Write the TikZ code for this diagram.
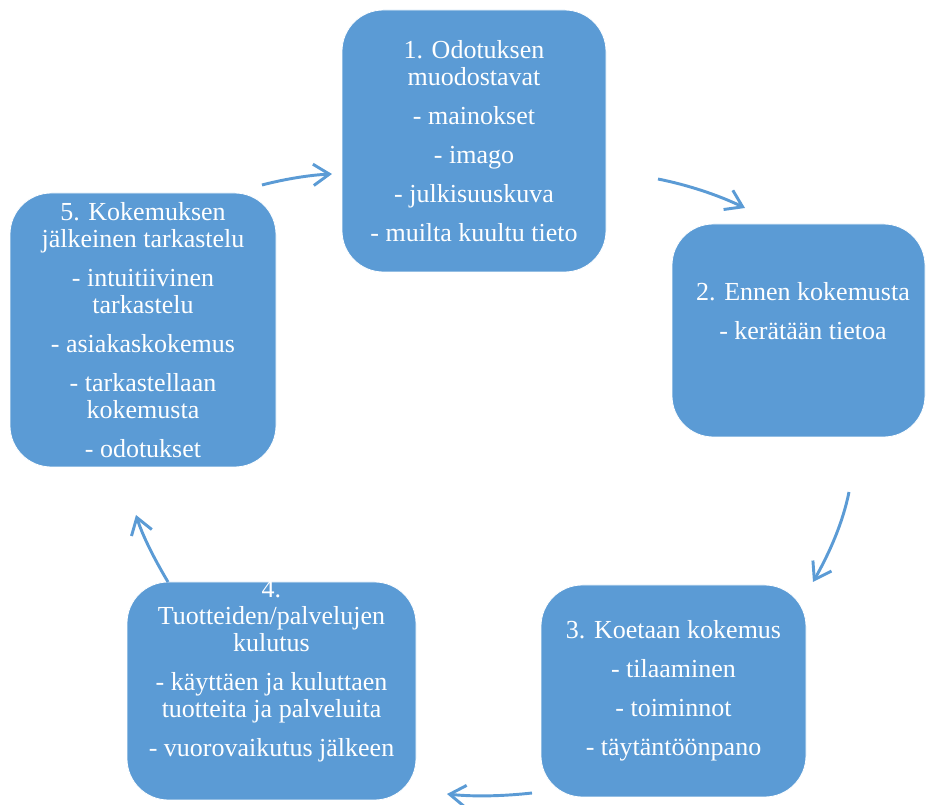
\documentclass[tikz,border=0pt]{standalone}
\usepackage{fontspec}
\setmainfont{Liberation Serif}
\usetikzlibrary{arrows.meta}
\definecolor{boxblue}{RGB}{91,155,213}
\tikzset{
  cyclebox/.style={draw=white, line width=0.6pt, fill=boxblue, rounded corners=31pt, inner sep=0pt, outer sep=0pt},
  cycletext/.style={text=white, align=center, inner sep=0pt, font={\fontsize{19.5}{20.25}\selectfont}},
  cyclearrow/.style={draw=boxblue, line width=2.2pt, -{Straight Barb[length=12pt,width=16pt,line width=2.2pt]}}
}
\begin{document}
\begin{tikzpicture}[x=0.75pt,y=-0.75pt]
\useasboundingbox (0,0) rectangle (926,805);
% boxes
\node[cyclebox, minimum width=198pt, minimum height=196.5pt] (b1) at (474,141) {};
\node[cyclebox, minimum width=189.75pt, minimum height=159.75pt] (b2) at (798.5,330.5) {};
\node[cyclebox, minimum width=198.75pt, minimum height=159pt] (b3) at (673.5,691) {};
\node[cyclebox, minimum width=216.75pt, minimum height=163.5pt] (b4) at (271.5,691) {};
\node[cyclebox, minimum width=199.5pt, minimum height=205.5pt] (b5) at (143,330) {};
% texts
\node[cycletext] (t1) at (474,141) {1. Odotuksen\\muodostavat\\[9pt]- mainokset\\[9pt]- imago\\[9pt]- julkisuuskuva\\[9pt]- muilta kuultu tieto};
\node[cycletext] (t2) at (803,311.5) {2. Ennen kokemusta\\[9pt]- kerätään tietoa};
\node[cycletext] (t3) at (673.5,690.5) {3. Koetaan kokemus\\[9pt]- tilaaminen\\[9pt]- toiminnot\\[9pt]- täytäntöönpano};
\node[cycletext] (t4) at (271.5,671) {4.\\Tuotteiden/palvelujen\\kulutus\\[9pt]- käyttäen ja kuluttaen\\tuotteita ja palveluita\\[9pt]- vuorovaikutus jälkeen};
\node[cycletext] (t5) at (143,330) {5. Kokemuksen\\jälkeinen tarkastelu\\[9pt]- intuitiivinen\\tarkastelu\\[9pt]- asiakaskokemus\\[9pt]- tarkastellaan\\kokemusta\\[9pt]- odotukset};
% arrow end points
\coordinate (a1s) at (262,185); \coordinate (a1e) at (332,174);
\coordinate (a2s) at (658,179); \coordinate (a2e) at (745,208);
\coordinate (a3s) at (849,492); \coordinate (a3e) at (813,582);
\coordinate (a4s) at (532,793); \coordinate (a4e) at (447,794);
\coordinate (a5s) at (168,582); \coordinate (a5e) at (136,515);
% arrows
\draw[cyclearrow] (a1s) .. controls (285,179) and (310,175) .. (a1e);
\draw[cyclearrow] (a2s) .. controls (688,185) and (718,195) .. (a2e);
\draw[cyclearrow] (a3s) .. controls (843,522) and (830,552) .. (a3e);
\draw[cyclearrow] (a4s) .. controls (505,796) and (475,797) .. (a4e);
\draw[cyclearrow] (a5s) .. controls (155,560) and (143,537) .. (a5e);
\end{tikzpicture}
\end{document}
